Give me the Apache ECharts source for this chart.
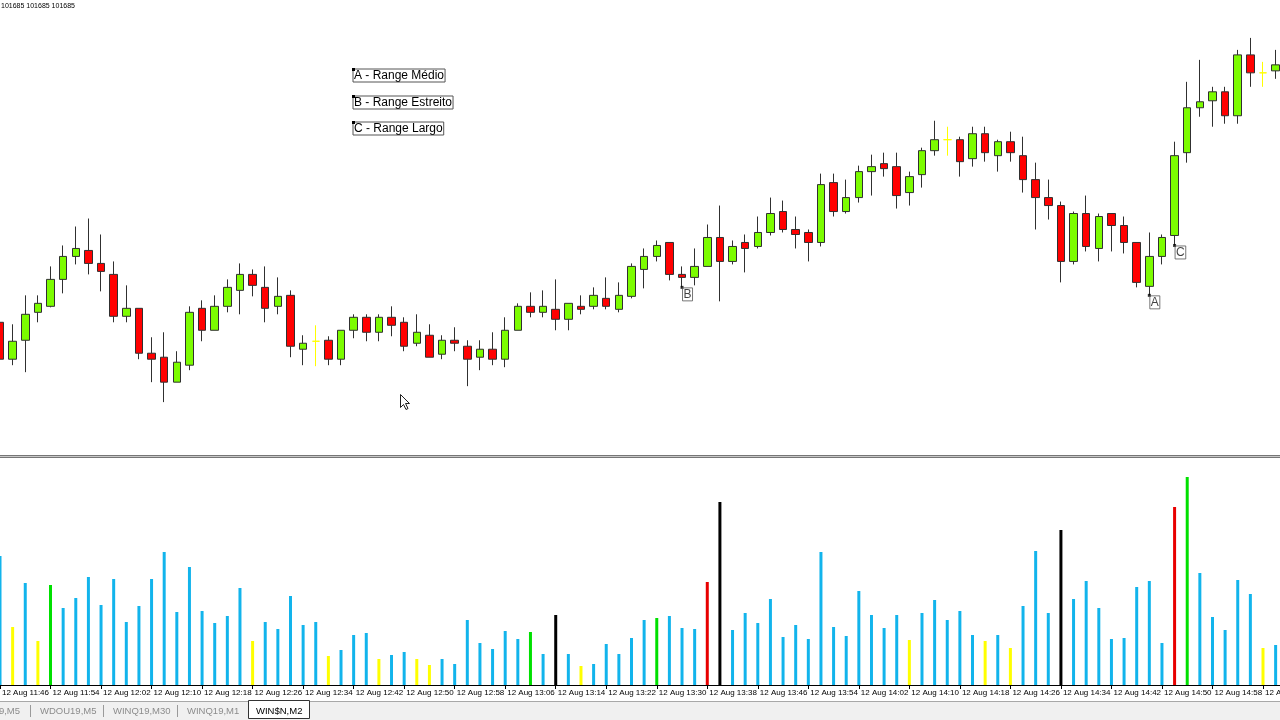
<!DOCTYPE html>
<html><head><meta charset="utf-8">
<script src="https://cdn.jsdelivr.net/npm/echarts@6/dist/echarts.min.js"></script>
<style>html,body{margin:0;padding:0;background:#fff}#c{width:1280px;height:720px}</style>
</head><body><div id="c"></div><script>
// ---- data ----
const times = ['11:46','11:48','11:50','11:52','11:54','11:56','11:58','12:00','12:02','12:04',
 '12:06','12:08','12:10','12:12','12:14','12:16','12:18','12:20','12:22','12:24',
 '12:26','12:28','12:30','12:32','12:34','12:36','12:38','12:40','12:42','12:44',
 '12:46','12:48','12:50','12:52','12:54','12:56','12:58','13:00','13:02','13:04',
 '13:06','13:08','13:10','13:12','13:14','13:16','13:18','13:20','13:22','13:24',
 '13:26','13:28','13:30','13:32','13:34','13:36','13:38','13:40','13:42','13:44',
 '13:46','13:48','13:50','13:52','13:54','13:56','13:58','14:00','14:02','14:04',
 '14:06','14:08','14:10','14:12','14:14','14:16','14:18','14:20','14:22','14:24',
 '14:26','14:28','14:30','14:32','14:34','14:36','14:38','14:40','14:42','14:44',
 '14:46','14:48','14:50','14:52','14:54','14:56','14:58','15:00','15:02','15:04',
 '15:06','15:08'];
const dayLabel = '12 Aug';

const open = [100395,100210,100305,100445,100475,100610,100725,100755,100690,100635,
 100425,100465,100240,100220,100095,100180,100465,100355,100475,100555,
 100635,100570,100475,100530,100260,100300,100305,100210,100355,100420,
 100345,100420,100395,100290,100330,100235,100305,100275,100220,100260,
 100210,100355,100475,100445,100460,100410,100475,100475,100515,100460,
 100525,100660,100725,100795,100635,100620,100675,100820,100700,100795,
 100775,100845,100950,100860,100845,100795,101095,100950,101020,101150,
 101190,101175,101045,101135,101255,101310,101310,101215,101340,101230,
 101300,101230,101110,101020,100980,100700,100940,100765,100940,100880,
 100795,100575,100725,100830,101245,101470,101505,101550,101430,101735,
 101645,101655];
const high = [100435,100385,100530,100530,100675,100780,100875,100915,100835,100700,
 100580,100465,100320,100345,100250,100475,100505,100530,100610,100690,
 100660,100675,100620,100555,100330,100380,100325,100355,100435,100435,
 100435,100475,100420,100435,100385,100330,100370,100305,100305,100345,
 100420,100490,100545,100555,100610,100490,100530,100570,100620,100595,
 100690,100765,100805,100795,100675,100765,100885,100980,100805,100835,
 100925,101020,101005,100925,100860,101140,101140,101110,101180,101235,
 101245,101245,101150,101270,101405,101375,101325,101375,101375,101310,
 101350,101325,101195,101110,101000,100950,101030,100940,100940,100925,
 100795,100845,100835,101300,101600,101710,101575,101575,101760,101820,
 101700,101760];
const low = [100095,100180,100145,100395,100470,100540,100685,100635,100550,100395,
 100395,100210,100095,99995,100095,100155,100300,100355,100445,100435,
 100525,100395,100435,100220,100180,100175,100180,100180,100315,100300,
 100300,100325,100250,100275,100220,100210,100250,100075,100155,100180,
 100170,100355,100420,100420,100355,100355,100435,100460,100460,100445,
 100515,100565,100700,100605,100570,100580,100675,100500,100685,100645,
 100765,100830,100845,100765,100700,100775,100925,100940,100995,101030,
 101125,100965,100980,101070,101230,101230,101125,101175,101200,101150,
 101200,101045,100860,100910,100595,100685,100750,100700,100750,100740,
 100570,100530,100685,100780,101195,101425,101375,101390,101390,101575,
 101575,101615];
const close = [100210,100300,100435,100490,100610,100725,100765,100690,100650,100425,
 100465,100240,100210,100095,100195,100445,100355,100475,100570,100635,
 100580,100465,100525,100275,100290,100300,100210,100355,100420,100345,
 100420,100380,100275,100345,100220,100305,100290,100210,100260,100210,
 100355,100475,100445,100475,100410,100490,100460,100530,100475,100530,
 100675,100725,100780,100635,100620,100675,100820,100700,100775,100765,
 100845,100940,100860,100835,100795,101085,100950,101020,101150,101175,
 101165,101030,101125,101255,101310,101310,101200,101340,101245,101300,
 101245,101110,101020,100980,100700,100940,100775,100925,100880,100795,
 100595,100725,100820,101230,101470,101500,101550,101430,101735,101645,
 101645,101685];

const volume = [12900,5800,10200,4400,10000,7700,8700,10800,8000,10600,
 6300,7900,10600,13300,7300,11800,7400,6200,6900,9700,
 4400,6300,5600,8900,6000,6300,2900,3500,5000,5200,
 2600,3000,3300,2600,2000,2600,2100,6500,4200,3600,
 5400,4600,5300,3100,7000,3100,1900,2100,4100,3100,
 4700,6500,6700,6900,5700,5600,10300,18300,5500,7200,
 6200,8600,4800,6000,4600,13300,5800,4900,9400,7000,
 5700,7000,4500,7200,8500,6500,7400,5000,4400,5000,
 3700,7900,13400,7200,15500,8600,10400,7700,4600,4700,
 9800,10400,4200,17800,20800,11200,6800,5500,10500,9100,
 3700,4000];
// volume class: n normal, y low, g climax up, r climax down, k churn
const volumeType = ['n','y','n','y','g','n','n','n','n','n',
 'n','n','n','n','n','n','n','n','n','n',
 'y','n','n','n','n','n','y','n','n','n',
 'y','n','n','y','y','n','n','n','n','n',
 'n','n','g','n','k','n','y','n','n','n',
 'n','n','g','n','n','n','r','k','n','n',
 'n','n','n','n','n','n','n','n','n','n',
 'n','n','y','n','n','n','n','n','y','n',
 'y','n','n','n','k','n','n','n','n','n',
 'n','n','n','r','g','n','n','n','n','n',
 'y','n'];

const markers = [{bar:54,text:'B'},{bar:91,text:'A'},{bar:93,text:'C'}];
const notes = ['A - Range Médio','B - Range Estreito','C - Range Largo'];
const priceLabel = '101685 101685 101685';
const tabs = ['WINQ19,M5','WDOU19,M5','WINQ19,M30','WINQ19,M1','WIN$N,M2'];

// ---- styles ----
const BULL = '#7cfc00', BEAR = '#ff0000', DOJI = '#ffff00', EDGE = '#303030';
const VOLCOL = {n:'#12b4ec', y:'#ffff00', g:'#00e000', r:'#e80000', k:'#000000'};
const FONT = '"Liberation Sans", Arial, sans-serif';
const STEP = 12.63;               // px per bar in the reference
const PLOT_W = STEP * (times.length - 1);

const categories = times.map(t => dayLabel + ' ' + t);
const candleData = open.map((o, i) => {
  const item = {value: [o, close[i], low[i], high[i]]};
  if (o === close[i]) item.itemStyle = {color: DOJI, color0: DOJI, borderColor: DOJI, borderColor0: DOJI, borderColorDoji: DOJI};
  return item;
});
const volData = volume.map((v, i) => [i, v]);
const markerData = markers.map(m => ({value: [m.bar, low[m.bar]], label: {formatter: m.text}}));

const every4 = (i) => i % 4 === 0;

const graphics = [];
graphics.push({type:'text', x:1, y:3, style:{text: priceLabel, font:'7px ' + FONT, fill:'#000', align:'left', verticalAlign:'top'}});
notes.forEach((n, i) => {
  const y = [69, 96, 122][i];
  graphics.push({type:'text', x:353, y:y, z:10, style:{text:n, font:'12px ' + FONT, fill:'#000', align:'left', verticalAlign:'top',
    borderColor:'#555', borderWidth:1, padding:[1,1,0,1]}});
  graphics.push({type:'rect', x:352, y:y-1, z:11, shape:{width:3, height:3}, style:{fill:'#000'}});
});
// panel separator
graphics.push({type:'rect', x:0, y:455, shape:{width:1280, height:3}, style:{fill:'#777'}});
graphics.push({type:'rect', x:0, y:456, shape:{width:1280, height:1}, style:{fill:'#c8c8c8'}});
// baseline of the volume panel
graphics.push({type:'rect', x:0, y:685, z:4, shape:{width:1280, height:1}, style:{fill:'#000'}});
// tab strip
graphics.push({type:'rect', x:0, y:701, shape:{width:1280, height:19}, style:{fill:'#f0f0f0'}});
graphics.push({type:'rect', x:0, y:701, shape:{width:1280, height:1}, style:{fill:'#a8a8a8'}});
graphics.push({type:'rect', x:248.5, y:700.5, z:5, shape:{width:61, height:18}, style:{fill:'#fff', stroke:'#333', lineWidth:1}});
const tabX = [20, 40, 113, 187, 256];
tabs.forEach((t, i) => {
  const last = i === tabs.length - 1;
  graphics.push({type:'text', x:tabX[i], y:711, z:6, style:{text:t, font:'9.5px ' + FONT, fill: last ? '#000' : '#8c8c8c',
    align: i === 0 ? 'right' : 'left', verticalAlign:'middle'}});
});
[30, 103, 177].forEach(x => graphics.push({type:'rect', x:x, y:705, shape:{width:1, height:12}, style:{fill:'#9a9a9a'}}));
// mouse pointer
graphics.push({type:'polygon', x:400.5, y:394.5, z:20, shape:{points:[[0,0],[0,13],[3,10],[5.5,15],[7.5,14],[5,9],[9,9]]},
  style:{fill:'#fff', stroke:'#222', lineWidth:1}});

const option = {
  animation: false,
  backgroundColor: '#fff',
  grid: [
    {left:0, top:0, width:PLOT_W, height:455, containLabel:false, outerBoundsMode:'none'},
    {left:0, top:458, width:PLOT_W, height:227, containLabel:false, outerBoundsMode:'none'}
  ],
  xAxis: [
    {type:'category', gridIndex:0, data:categories, boundaryGap:false, show:false},
    {type:'category', gridIndex:1, data:categories, boundaryGap:false,
     axisLine:{show:false},
     axisTick:{show:true, interval:every4, length:4, lineStyle:{color:'#000'}},
     axisLabel:{show:true, interval:every4, align:'left', margin:4, padding:[0,0,0,2],
       color:'#000', fontSize:8, fontFamily:'"Liberation Sans", Arial, sans-serif', hideOverlap:false,
       showMinLabel:true, showMaxLabel:true},
     splitLine:{show:false}}
  ],
  yAxis: [
    {type:'value', gridIndex:0, min:99730, max:102010, show:false, splitLine:{show:false}},
    {type:'value', gridIndex:1, min:0, max:22700, show:false, splitLine:{show:false}}
  ],
  series: [
    {type:'candlestick', xAxisIndex:0, yAxisIndex:0, data:candleData, barWidth:8,
     itemStyle:{color:BULL, color0:BEAR, borderColor:EDGE, borderColor0:EDGE, borderColorDoji:DOJI, borderWidth:1}},
    {type:'scatter', xAxisIndex:0, yAxisIndex:0, data:markerData, symbol:'rect', symbolSize:3, z:5,
     itemStyle:{color:'#000'},
     label:{show:true, position:[2, 2], fontSize:12, fontFamily:'"Liberation Sans", Arial, sans-serif', color:'#111',
       borderColor:'#555', borderWidth:1, padding:[1,1,0,1], align:'left', verticalAlign:'top'}},
    {type:'custom', xAxisIndex:1, yAxisIndex:1, data:volData, encode:{x:0, y:1}, clip:false,
     renderItem: (params, api) => {
       const top = api.coord([api.value(0), api.value(1)]);
       const base = api.coord([api.value(0), 0]);
       return {type:'rect', shape:{x: top[0] - 1.5, y: top[1], width: 3, height: base[1] - top[1]},
         style:{fill: VOLCOL[volumeType[params.dataIndex]]}};
     }}
  ],
  graphic: graphics
};
const chart = echarts.init(document.getElementById('c'), null, {renderer:'canvas', width:1280, height:720});
chart.setOption(option);
</script></body></html>
